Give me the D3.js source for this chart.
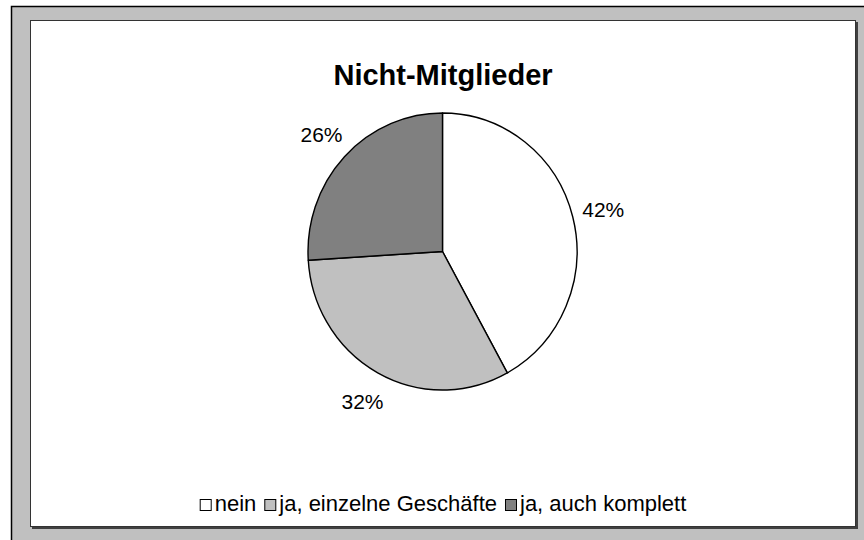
<!DOCTYPE html>
<html>
<head>
<meta charset="utf-8">
<script src="https://cdn.jsdelivr.net/npm/d3@7"></script>
<style>
  html, body { margin: 0; padding: 0; background: #fff; }
  svg { display: block; font-family: Arial, "Liberation Sans", sans-serif; }
</style>
</head>
<body>
<svg id="chart" width="864" height="540"></svg>
<script>
const title = 'Nicht-Mitglieder';
const categories = ['nein', 'ja, einzelne Geschäfte', 'ja, auch komplett'];
const values = [42, 32, 26];
const labels = ['42%', '32%', '26%'];
const colors = ['#ffffff', '#c0c0c0', '#808080'];

const svg = d3.select('#chart');

// outer frame (runs past the right / bottom edge)
svg.append('rect')
  .attr('x', 11.5).attr('y', 6.5)
  .attr('width', 900).attr('height', 600)
  .attr('fill', '#c0c0c0')
  .attr('stroke', '#000')
  .attr('stroke-width', 1.5);

// plot area with a small shadow
svg.append('rect')
  .attr('x', 32).attr('y', 22)
  .attr('width', 826).attr('height', 507)
  .attr('fill', '#404040');
svg.append('rect')
  .attr('x', 30.5).attr('y', 20.5)
  .attr('width', 825).attr('height', 506)
  .attr('fill', '#fff')
  .attr('stroke', '#333')
  .attr('stroke-width', 1);

svg.append('text')
  .attr('x', 443).attr('y', 85)
  .attr('text-anchor', 'middle')
  .style('font-size', '29px')
  .style('font-weight', 'bold')
  .text(title);

const cx = 442.5, cy = 251.5, radius = 134.5, squash = 1.03;
const pie = d3.pie().sort(null);
const arcs = pie(values);
const arc = d3.arc().innerRadius(0).outerRadius(radius);
const labelArc = d3.arc().innerRadius(166).outerRadius(166);

const g = svg.append('g').attr('transform', `translate(${cx},${cy})`);

g.append('g')
  .attr('transform', `scale(1,${squash})`)
  .selectAll('path')
  .data(arcs)
  .enter()
  .append('path')
  .attr('d', arc)
  .attr('fill', (d, i) => colors[i])
  .attr('stroke', '#000')
  .attr('stroke-width', 1.4)
  .attr('stroke-linejoin', 'round');

g.selectAll('text.lbl')
  .data(arcs)
  .enter()
  .append('text')
  .attr('class', 'lbl')
  .attr('x', d => labelArc.centroid(d)[0])
  .attr('y', d => labelArc.centroid(d)[1] * squash)
  .attr('text-anchor', 'middle')
  .attr('dy', '0.36em')
  .style('font-size', '21px')
  .text((d, i) => labels[i]);

// legend, centred under the plot
const legend = svg.append('g');
const box = 11, pad = 4, gap = 8, baseY = 511;
const items = legend.selectAll('g')
  .data(categories)
  .enter()
  .append('g');
items.append('rect')
  .attr('width', box).attr('height', box)
  .attr('y', baseY - box - 0.5)
  .attr('fill', (d, i) => colors[i])
  .attr('stroke', '#000')
  .attr('stroke-width', 1);
items.append('text')
  .attr('y', baseY)
  .style('font-size', '22px')
  .text(d => d);

let x = 0;
items.each(function() {
  const item = d3.select(this);
  const w = item.select('text').node().getComputedTextLength();
  item.select('rect').attr('x', x + 0.5);
  item.select('text').attr('x', x + box + pad);
  x += box + pad + w + gap;
});
const total = x - gap;
legend.attr('transform', `translate(${443 - total / 2},0)`);
</script>
</body>
</html>
